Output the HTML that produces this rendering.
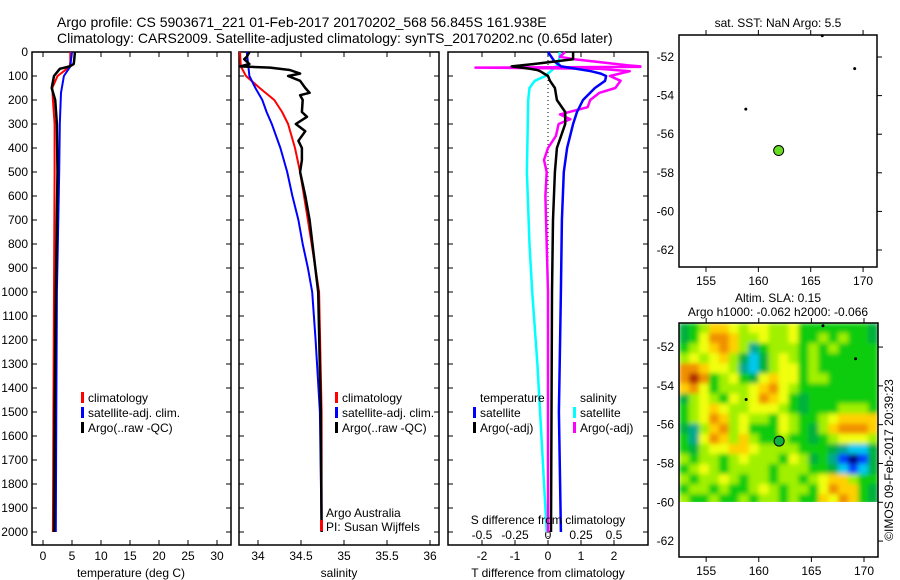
<!DOCTYPE html>
<html><head><meta charset="utf-8">
<style>
html,body{margin:0;padding:0;background:#fff;}
svg{display:block;font-family:"Liberation Sans",sans-serif;}
text{fill:#000;}
</style></head>
<body>
<svg id="chart" width="900" height="580" viewBox="0 0 900 580" xmlns="http://www.w3.org/2000/svg">
<defs>
<filter id="blur" x="0" y="0" width="1" height="1"><feGaussianBlur stdDeviation="2.5" edgeMode="duplicate"/></filter>
<clipPath id="slaclip"><rect x="679" y="323" width="199" height="179"/></clipPath>
</defs>
<text x="57" y="27" font-size="14">Argo profile: CS 5903671_221 01-Feb-2017 20170202_568 56.845S 161.938E</text>
<text x="57" y="43" font-size="14">Climatology: CARS2009. Satellite-adjusted climatology: synTS_20170202.nc (0.65d later)</text>
<g id="g"></g>
</svg>
<script>
// ---------- data ----------
const depthTicks = [0,100,200,300,400,500,600,700,800,900,1000,1100,1200,1300,1400,1500,1600,1700,1800,1900,2000];
const tTicks = [0,5,10,15,20,25,30];
const sTicks = [34,34.5,35,35.5,36];
const sTickLabels = ["34","34.5","35","35.5","36"];
const dtTicks = [-2,-1,0,1,2];
const dsTicks = [-0.5,-0.25,0,0.25,0.5];
const dsTickLabels = ["-0.5","-0.25","0","0.25","0.5"];

const tClimDepth = [0,40,60,80,100,150,200,300,500,1000,1500,2000];
const tClimVal   = [4.7,4.7,4.6,3.6,2.5,1.6,1.7,2.0,2.0,1.9,1.8,1.7];
const tSatDepth  = [0,40,60,100,170,300,500,1000,1500,2000];
const tSatVal    = [5.0,4.8,4.7,3.6,3.1,2.9,2.8,2.4,2.3,2.2];
const tArgoDepth = [0,30,50,60,70,100,150,200,300,500,1000,1500,2000];
const tArgoVal   = [5.5,5.4,5.3,4.6,2.9,1.9,1.5,2.1,2.4,2.5,2.2,2.0,1.9];

const sClimDepth = [0,60,100,150,200,250,300,400,500,700,1000,1500,2000];
const sClimVal   = [33.79,33.8,33.86,34.02,34.19,34.28,34.35,34.43,34.49,34.58,34.71,34.74,34.74];
const sSatDepth  = [0,100,150,200,250,300,400,500,600,700,800,900,1000,1200,1500,2000];
const sSatVal    = [33.87,33.9,33.97,34.05,34.1,34.16,34.26,34.34,34.4,34.47,34.52,34.58,34.63,34.67,34.72,34.74];
const sArgoDepth = [0,20,30,50,60,65,75,90,100,120,150,170,180,200,250,270,300,330,370,400,450,500,600,700,1000,1500,2000];
const sArgoVal   = [33.9,33.87,33.84,33.9,33.79,34.14,34.37,34.49,34.35,34.49,34.55,34.6,34.49,34.52,34.51,34.57,34.44,34.55,34.47,34.51,34.51,34.49,34.55,34.6,34.7,34.73,34.74];

const dtSatDepth  = [0,40,60,80,90,100,120,150,200,250,300,400,500,700,1000,1500,2000];
const dtSatVal    = [0,0.2,0.4,1.3,1.6,1.76,1.73,1.42,1.06,0.88,0.76,0.58,0.48,0.42,0.39,0.33,0.39];
const dtArgoDepth = [0,30,50,60,70,75,80,100,120,150,200,250,300,400,500,700,1000,2000];
const dtArgoVal   = [0.76,0.76,-0.42,-1.1,-0.55,-0.33,-0.24,0,0.06,0.21,0.27,0.52,0.52,0.27,0.21,0.15,0.12,0.09];
const dsSatDepth  = [0,50,100,120,150,200,500,800,1000,1300,1500,2000];
const dsSatVal    = [0.09,0.08,-0.02,-0.1,-0.14,-0.15,-0.16,-0.14,-0.12,-0.08,-0.06,-0.01];
const dsArgoDepth = [0,20,30,55,60,62,65,70,80,100,120,150,170,200,230,260,280,300,350,400,450,500,600,800,1000,2000];
const dsArgoVal   = [0.13,0.09,0.2,0.6,0.7,0.7,-0.55,0.39,0.62,0.47,0.55,0.51,0.39,0.32,0.3,0.09,0.17,0.08,0.06,0,-0.03,-0.01,-0.02,-0.01,0,0];

// map points (lon, lat)
const floatLon = [158.8,169.2,166.1];
const floatLat = [-54.7,-52.6,-50.9];
const argoLon = 161.938, argoLat = -56.845;
// SLA heatmap rows (north->south), codes 0..10 (hex)
const slaRows = [
"45688767766755555554","45799866766755656554","56789863566656565555","67678642467656555555",
"99877632467756555555","9A956754787756655555","89756667897655555555","46765767987545555555",
"56787667776545556665","56798676657655678888","43689675557654689998","53798686556554567776",
"54677887666655543224","65665676665764531014","56765666656665542124","65667656656656788655",
"56656556765665798854","65565565665655879854"];
const slaColors = ["#000080","#0040ff","#00c8f0","#00a890","#00b03c","#10cc10","#a0f000","#f0ff10","#ffd000","#f09000","#b02800"];

// ---------- helpers ----------
const NS="http://www.w3.org/2000/svg";
const G=document.getElementById('g');
function mk(tag,attrs,parent){const e=document.createElementNS(NS,tag);for(const k in attrs)e.setAttribute(k,attrs[k]);(parent||G).appendChild(e);return e;}
function txt(x,y,s,size,anchor,parent){const e=mk('text',{x:x,y:y,'font-size':size||12,'text-anchor':anchor||'start'},parent);e.textContent=s;return e;}
const yD = d => 52 + d*0.24;
const PT=52, PB=545;

function panel(name,x0,x1){
  const g=mk('g',{});
  
  
  const r=mk('rect',{x:x0,y:PT,width:x1-x0,height:PB-PT,fill:'none',stroke:'#000','stroke-width':1.5},g);
  
  
  depthTicks.forEach(d=>{
    mk('line',{x1:x0,x2:x0+5,y1:yD(d),y2:yD(d),stroke:'#000'},g);
    mk('line',{x1:x1-5,x2:x1,y1:yD(d),y2:yD(d),stroke:'#000'},g);
  });
  return g;
}
function xticks(g,vals,labels,sx){
  vals.forEach((v,i)=>{
    const x=sx(v);
    mk('line',{x1:x,x2:x,y1:PT,y2:PT+5,stroke:'#000'},g);
    mk('line',{x1:x,x2:x,y1:PB-5,y2:PB,stroke:'#000'},g);
    const t=txt(x,560,labels[i],12,'middle',g);
    
    
  });
}
function series(g,name,ds,vs,sx,color,w,x0,x1){
  const pts=ds.map((d,i)=>{let x=sx(vs[i]);x=Math.max(x0+1,Math.min(x1-1,x));return x.toFixed(1)+','+yD(d).toFixed(1);}).join(' ');
  const p=mk('polyline',{points:pts,fill:'none',stroke:color,'stroke-width':w,'stroke-linejoin':'round'},g);
  
  
}
function legend(g,x,y,items){
  items.forEach((it,i)=>{
    const yy=y+i*15;
    if(it[1]) mk('rect',{x:x,y:yy-10,width:3,height:11,fill:it[1]},g);
    const t=txt(x+7,yy,it[0],12,'start',g);
    
    
  });
}

// depth labels
depthTicks.forEach(d=>{
  const t=txt(28,yD(d)+4,String(d),12,'end');
  
  
});

// panel 1 temperature
const sxT = v => 43 + v*5.8;
const p1=panel('temperature-panel',32,231);
xticks(p1,tTicks,tTicks.map(String),sxT);
series(p1,'temp-climatology-line',tClimDepth,tClimVal,sxT,'#ff0000',2,32,231);
series(p1,'temp-satellite-line',tSatDepth,tSatVal,sxT,'#0000ff',2,32,231);
series(p1,'temp-argo-line',tArgoDepth,tArgoVal,sxT,'#000',2.5,32,231);
legend(p1,81,402,[['climatology','#ff0000'],['satellite-adj. clim.','#0000ff'],['Argo(..raw -QC)','#000']]);
let t=txt(131,577,'temperature (deg C)',12,'middle',p1);



// panel 2 salinity
const sxS = v => 258 + (v-34)*86;
const p2=panel('salinity-panel',239,439);
xticks(p2,sTicks,sTickLabels,sxS);
series(p2,'sal-climatology-line',sClimDepth,sClimVal,sxS,'#ff0000',2,239,439);
series(p2,'sal-satellite-line',sSatDepth,sSatVal,sxS,'#0000ff',2,239,439);
series(p2,'sal-argo-line',sArgoDepth,sArgoVal,sxS,'#000',2.5,239,439);
legend(p2,335,402,[['climatology','#ff0000'],['satellite-adj. clim.','#0000ff'],['Argo(..raw -QC)','#000']]);
t=txt(326,517,'Argo Australia',12,'start',p2);


t=txt(326,531,'PI: Susan Wijffels',12,'start',p2);


mk('rect',{x:320,y:520,width:3,height:11,fill:'#ff0000'},p2);
t=txt(339,577,'salinity',12,'middle',p2);



// panel 3 differences
const sxDT = v => 548 + v*33;
const sxDS = v => 548 + v*132;
const p3=panel('difference-panel',448,648);
xticks(p3,dtTicks,dtTicks.map(String),sxDT);
mk('line',{x1:548,x2:548,y1:PT,y2:PB,stroke:'#000','stroke-dasharray':'1,3'},p3);
dsTicks.forEach((v,i)=>{
  const tt=txt(sxDS(v),539,dsTickLabels[i],12,'middle',p3);
  
  
});
series(p3,'sdiff-satellite-line',dsSatDepth,dsSatVal,sxDS,'#00ffff',2.5,448,648);
series(p3,'sdiff-argo-line',dsArgoDepth,dsArgoVal,sxDS,'#ff00ff',2.5,448,648);
series(p3,'tdiff-satellite-line',dtSatDepth,dtSatVal,sxDT,'#0000ff',2.5,448,648);
series(p3,'tdiff-argo-line',dtArgoDepth,dtArgoVal,sxDT,'#000',2.5,448,648);
legend(p3,473,402,[['temperature',null],['satellite','#0000ff'],['Argo(-adj)','#000']]);
legend(p3,573,402,[['salinity',null],['satellite','#00ffff'],['Argo(-adj)','#ff00ff']]);
t=txt(548,524,'S difference from climatology',12,'middle',p3);


t=txt(548,577,'T difference from climatology',12,'middle',p3);



// ---------- maps ----------
function mapAxes(name,x0,y0,x1,y1,lonA,lonB,latA,latB){
  const g=mk('g',{});
  
  
  const sx=v=>x0+(v-lonA)/(lonB-lonA)*(x1-x0);
  const sy=v=>y0+(latA-v)/(latA-latB)*(y1-y0);
  return {g,sx,sy};
}
function mapFrame(m,x0,y0,x1,y1,labY){
  const g=m.g;
  mk('rect',{x:x0,y:y0,width:x1-x0,height:y1-y0,fill:'none',stroke:'#000','stroke-width':1.5},g);
  [155,160,165,170].forEach(v=>{
    const x=m.sx(v);
    mk('line',{x1:x,x2:x,y1:y0-5,y2:y0,stroke:'#000'},g);
    mk('line',{x1:x,x2:x,y1:y1,y2:y1+5,stroke:'#000'},g);
    const tt=txt(x,labY,String(v),12,'middle',g);
    
    
  });
  [-52,-54,-56,-58,-60,-62].forEach(v=>{
    const y=m.sy(v);
    mk('line',{x1:x1,x2:x1+5,y1:y,y2:y,stroke:'#000'},g);
    const tt=txt(x0-5,y+4,String(v),12,'end',g);
    
    
  });
}
// map 1
const m1=mapAxes('sst-map',679,35,877,267,152.42,171.33,-50.86,-62.88);
mapFrame(m1,679,35,877,267,285);
floatLon.forEach((lo,i)=>{
  const c=mk('circle',{cx:m1.sx(lo),cy:m1.sy(floatLat[i]),r:1.5,fill:'#000'},m1.g);
  
  
});
let c=mk('circle',{cx:m1.sx(argoLon),cy:m1.sy(argoLat),r:5,fill:'#66dd22',stroke:'#000'},m1.g);


t=txt(778,27,'sat. SST: NaN Argo: 5.5',12,'middle',m1.g);



// map 2
const m2=mapAxes('sla-map',679,323,878,557,152.42,171.33,-50.76,-62.82);
const hLonA=152.42,hLonB=171.33,hLatA=-50.76,hLatB=-60.1;
const nr=slaRows.length;
const clipG=mk('g',{'clip-path':'url(#slaclip)'},m2.g);
const heat=mk('g',{filter:'url(#blur)'},clipG);


slaRows.forEach((row,ri)=>{
  const nc=row.length;
  for(let ci=0;ci<nc;ci++){
    const code=parseInt(row[ci],16);
    const la0=hLatA+(hLatB-hLatA)*ri/nr, la1=hLatA+(hLatB-hLatA)*(ri+1)/nr;
    const lo0=hLonA+(hLonB-hLonA)*ci/nc, lo1=hLonA+(hLonB-hLonA)*(ci+1)/nc;
    const r=mk('rect',{x:m2.sx(lo0),y:m2.sy(la0),width:m2.sx(lo1)-m2.sx(lo0)+0.6,height:m2.sy(la1)-m2.sy(la0)+0.6,fill:slaColors[Math.min(code,10)]},heat);
    
    
  }
});
mapFrame(m2,679,323,878,557,575);
floatLon.forEach((lo,i)=>{
  const d=mk('circle',{cx:m2.sx(lo),cy:m2.sy(floatLat[i]),r:1.5,fill:'#000'},m2.g);
  
  
});
c=mk('circle',{cx:m2.sx(argoLon),cy:m2.sy(argoLat),r:5,fill:'#10b040',stroke:'#000'},m2.g);


t=txt(778,302,'Altim. SLA: 0.15',12,'middle',m2.g);


t=txt(778,316,'Argo h1000: -0.062 h2000: -0.066',12,'middle',m2.g);


t=txt(0,0,'©IMOS 09-Feb-2017 20:39:23',12,'middle');
t.setAttribute('transform','translate(893,460) rotate(-90)');


</script>
</body></html>
